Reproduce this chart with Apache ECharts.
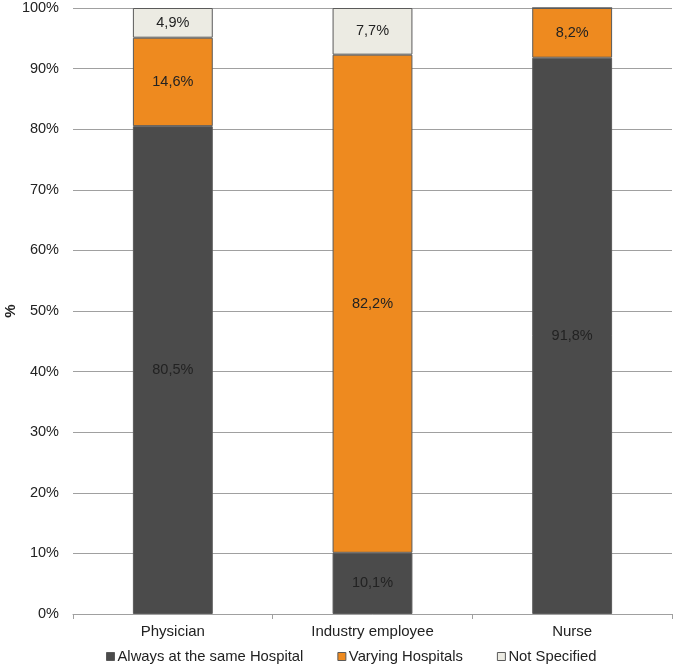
<!DOCTYPE html>
<html><head><meta charset="utf-8">
<script src="https://cdn.jsdelivr.net/npm/echarts@6/dist/echarts.min.js"></script>
<style>html,body{margin:0;padding:0;background:#fff}#c{width:680px;height:666px}</style>
</head><body><div id="c"></div>
<script>
const categories = ["Physician", "Industry employee", "Nurse"];
const seriesNames = ["Always at the same Hospital", "Varying Hospitals", "Not Specified"];
const always = [80.5, 10.1, 91.8];
const varying = [14.6, 82.2, 8.2];
const notSpecified = [4.9, 7.7, 0];
const yTicks = [0, 10, 20, 30, 40, 50, 60, 70, 80, 90, 100];
const yTitle = '%';
const colors = ["#4b4b4b", "#ee8a1f", "#ecebe3"];

const FONT = 'Liberation Sans, Arial, sans-serif';
const chart = echarts.init(document.getElementById('c'));
const fmt = v => v.toFixed(1).replace('.', ',') + '%';
const mk = (name, data, color) => ({
  name, type: 'bar', stack: 'a', data, barWidth: '40%',
  itemStyle: { color, borderColor: '#5a5a5a', borderWidth: 1 },
  label: { show: true, position: 'inside', color: '#222', fontSize: 14.5, fontFamily: FONT,
    formatter: p => p.value > 0 ? fmt(p.value) : '' },
  emphasis: { disabled: true }
});
chart.setOption({
  animation: false,
  grid: { left: 73, right: 8, top: 8, bottom: 52, containLabel: false, outerBoundsMode: 'none' },
  graphic: [{
    type: 'text', x: 11, y: 311, rotation: Math.PI / 2,
    style: { text: yTitle, fontWeight: 'bold', fontSize: 15, fill: '#222', fontFamily: FONT,
      align: 'center', verticalAlign: 'middle' }
  }],
  legend: {
    bottom: -3, left: 101, itemWidth: 8, itemHeight: 8, itemGap: 34,
    textStyle: { fontSize: 14.8, color: '#222', fontFamily: FONT, padding: [0, 0, 0, -2] },
    data: seriesNames.map(n => ({ name: n, icon: 'rect', itemStyle: { borderColor: '#5a5a5a', borderWidth: 1 } }))
  },
  xAxis: {
    type: 'category', data: categories,
    axisLine: { lineStyle: { color: '#a0a0a0' } },
    axisTick: { show: true, length: 5, lineStyle: { color: '#a0a0a0' } },
    axisLabel: { color: '#222', fontSize: 15, margin: 10, fontFamily: FONT }
  },
  yAxis: {
    type: 'value', min: 0, max: 100, interval: 10,
    axisLine: { show: false }, axisTick: { show: false },
    splitLine: { lineStyle: { color: '#a0a0a0' } },
    axisLabel: { color: '#222', fontSize: 14.5, margin: 14, fontFamily: FONT,
      formatter: v => yTicks.includes(v) ? v + '%' : '' }
  },
  series: [
    mk(seriesNames[0], always, colors[0]),
    mk(seriesNames[1], varying, colors[1]),
    mk(seriesNames[2], notSpecified, colors[2])
  ]
});
</script></body></html>
